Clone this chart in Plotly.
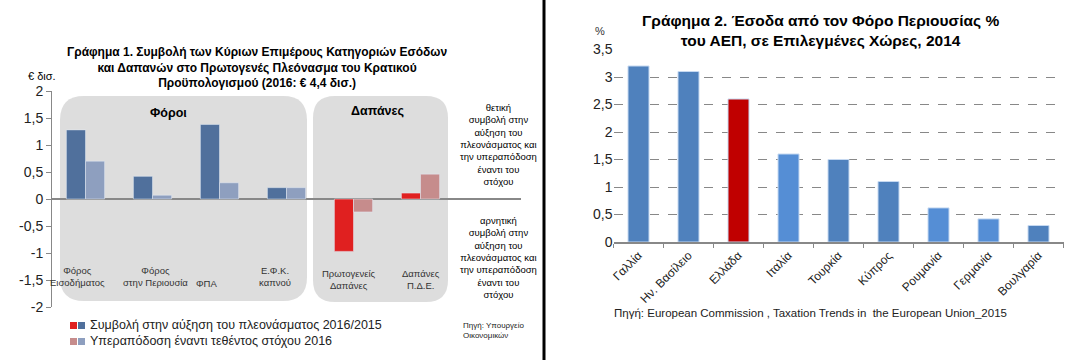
import plotly.graph_objects as go

W, H = 1071, 360
def px(x): return x / W
def py(y): return 1 - y / H

# ---------- Data: chart 1 ----------
cats1 = ["Φόρος Εισοδήματος", "Φόρος στην Περιουσία", "ΦΠΑ", "Ε.Φ.Κ. καπνού",
         "Πρωτογενείς Δαπάνες", "Δαπάνες Π.Δ.Ε."]
cat_labels1 = ["Φόρος<br>Εισοδήματος", "Φόρος<br>στην Περιουσία", "ΦΠΑ", "Ε.Φ.Κ.<br>καπνού",
               "Πρωτογενείς<br>Δαπάνες", "Δαπάνες<br>Π.Δ.Ε."]
contribution = [1.28, 0.42, 1.38, 0.21, -0.97, 0.11]
overperformance = [0.70, 0.07, 0.30, 0.21, -0.24, 0.46]
series1_names = ["Συμβολή στην αύξηση του πλεονάσματος 2016/2015",
                 "Υπεραπόδοση έναντι τεθέντος στόχου 2016"]
yticks1 = [-2, -1.5, -1, -0.5, 0, 0.5, 1, 1.5, 2]
yticklabels1 = ["-2", "-1,5", "-1", "-0,5", "0", "0,5", "1", "1,5", "2"]

# ---------- Data: chart 2 ----------
countries = ["Γαλλία", "Ην. Βασίλειο", "Ελλάδα", "Ιταλία", "Τουρκία", "Κύπρος",
             "Ρουμανία", "Γερμανία", "Βουλγαρία"]
property_tax = [3.2, 3.1, 2.6, 1.6, 1.5, 1.1, 0.62, 0.42, 0.3]
yticks2 = [0, 0.5, 1, 1.5, 2, 2.5, 3, 3.5]
yticklabels2 = ["0", "0,5", "1", "1,5", "2", "2,5", "3", "3,5"]

DARK_BLUE, LIGHT_BLUE = "#50709C", "#8E9FBF"
RED, PINK = "#E02020", "#C68C8C"
c1_contrib = [DARK_BLUE] * 4 + [RED] * 2
c1_over = [LIGHT_BLUE] * 4 + [PINK] * 2
c2 = ["#4F81BD", "#4F81BD", "#C00000", "#558ED5", "#4F81BD", "#4F81BD",
      "#558ED5", "#558ED5", "#4F81BD"]

fig = go.Figure()
fig.add_trace(go.Bar(x=cats1, y=contribution, marker_color=c1_contrib, xaxis="x", yaxis="y",
                     showlegend=False))
fig.add_trace(go.Bar(x=cats1, y=overperformance, marker_color=c1_over, xaxis="x", yaxis="y",
                     showlegend=False))
fig.add_trace(go.Bar(x=countries, y=property_tax, xaxis="x2", yaxis="y2", showlegend=False,
                     marker=dict(color=c2, line=dict(color="#C6D9F1", width=1)), width=0.42))

FONT = "Liberation Sans, Arial, sans-serif"
shapes = []
def rrect(x0, y0, x1, y1, r):
    p = lambda x, y: f"{px(x):.5f},{py(y):.5f}"
    return (f"M {p(x0+r,y0)} L {p(x1-r,y0)} Q {p(x1,y0)} {p(x1,y0+r)} "
            f"L {p(x1,y1-r)} Q {p(x1,y1)} {p(x1-r,y1)} L {p(x0+r,y1)} "
            f"Q {p(x0,y1)} {p(x0,y1-r)} L {p(x0,y0+r)} Q {p(x0,y0)} {p(x0+r,y0)} Z")
shapes.append(dict(type="path", xref="paper", yref="paper", path=rrect(60, 96, 307, 301, 24),
                   fillcolor="#DDDDDD", line=dict(width=0), layer="below"))
shapes.append(dict(type="path", xref="paper", yref="paper", path=rrect(313, 96, 448, 302, 22),
                   fillcolor="#DDDDDD", line=dict(width=0), layer="below"))
shapes.append(dict(type="line", xref="paper", yref="paper", x0=px(544), x1=px(544), y0=0, y1=1,
                   line=dict(color="black", width=3)))
for (xx, col) in [(70, RED), (78, DARK_BLUE)]:
    shapes.append(dict(type="rect", xref="paper", yref="paper", x0=px(xx), x1=px(xx + 7),
                       y0=py(329), y1=py(322), fillcolor=col, line=dict(width=0)))
for (xx, col) in [(70, PINK), (78, LIGHT_BLUE)]:
    shapes.append(dict(type="rect", xref="paper", yref="paper", x0=px(xx), x1=px(xx + 7),
                       y0=py(345), y1=py(338), fillcolor=col, line=dict(width=0)))

ann = []
def A(text, x, y, size, bold=False, xanchor="center", align="center", color="black", **kw):
    t = f"<b>{text}</b>" if bold else text
    ann.append(dict(text=t, x=px(x), y=py(y), xref="paper", yref="paper", showarrow=False,
                    xanchor=xanchor, yanchor="middle", align=align,
                    font=dict(family=FONT, size=size, color=color), **kw))

A("Γράφημα 1. Συμβολή των Κύριων Επιμέρους Κατηγοριών Εσόδων<br>"
  "και Δαπανών στο Πρωτογενές Πλεόνασμα του Κρατικού<br>Προϋπολογισμού (2016: € 4,4 δισ.)",
  257, 67, 12, bold=True)
A("€ δισ.", 42, 76, 11)
A("Φόροι", 168, 113, 12.5, bold=True)
A("Δαπάνες", 377, 111, 12.5, bold=True)
pos_y = [276, 276, 283, 276, 279, 279]
label_shift = [-8, 3, -13, -12, -5, 0]
for i, lab in enumerate(cat_labels1):
    ann.append(dict(text=lab, x=cats1[i], y=py(pos_y[i]), xref="x", yref="paper", showarrow=False,
                    xanchor="center", yanchor="middle", align="center", xshift=label_shift[i],
                    font=dict(family=FONT, size=9.5, color="#333")))
side = "συμβολή στην<br>αύξηση του<br>πλεονάσματος και<br>την υπεραπόδοση<br>έναντι του<br>στόχου"
A("θετική<br>" + side, 498, 144, 9.5)
A("αρνητική<br>" + side, 498, 257, 9.5)
A(series1_names[0], 88, 325, 12.5, xanchor="left", align="left", color="#222")
A(series1_names[1], 88, 341, 12.5, xanchor="left", align="left", color="#222")
A("Πηγή: Υπουργείο<br>Οικονομικών", 461, 330, 8, xanchor="left", align="left", color="#222")

A("Γράφημα 2. Έσοδα από τον Φόρο Περιουσίας %<br>του ΑΕΠ, σε Επιλεγμένες Χώρες, 2014",
  820, 30, 15.5, bold=True)
A("%", 600, 31, 11, color="#333")
A("Πηγή: European Commission , Taxation Trends in  the European Union_2015",
  612, 313, 11.5, xanchor="left", align="left", color="#222")

fig.update_layout(
    width=W, height=H, margin=dict(l=0, r=0, t=0, b=0, autoexpand=False),
    paper_bgcolor="white", plot_bgcolor="rgba(0,0,0,0)",
    barmode="group", bargap=0.43, bargroupgap=0,
    font=dict(family=FONT, color="black"),
    shapes=shapes, annotations=ann,
    xaxis=dict(domain=[px(52), px(521)], range=[-0.5, 6.5], showticklabels=False,
               showline=False, ticks="", showgrid=False, automargin=False),
    yaxis=dict(domain=[py(307), py(91)], range=[-2, 2], tickvals=yticks1, ticktext=yticklabels1,
               showline=True, linecolor="#888", linewidth=1, ticks="outside", ticklen=5,
               tickcolor="#888", showgrid=False, zeroline=True, zerolinecolor="#888",
               zerolinewidth=1.5, tickfont=dict(size=14, color="#222"), anchor="x",
               automargin=False),
    xaxis2=dict(domain=[px(613.5), px(1063.5)], anchor="y2", tickangle=-45,
                tickfont=dict(size=12, color="#222"), ticks="outside", tickson="boundaries",
                ticklen=4, tickcolor="#888", showline=True, linecolor="#888", linewidth=1.5,
                showgrid=False, automargin=False),
    yaxis2=dict(domain=[py(242), py(49.5)], range=[0, 3.5], anchor="x2", tickvals=yticks2,
                ticktext=yticklabels2, showgrid=True, gridcolor="#888", griddash="dash",
                gridwidth=1, zeroline=False, showline=False, ticks="",
                tickfont=dict(size=14, color="#222"), automargin=False),
)
fig.write_html("out.html", config={"displayModeBar": False},
               post_script="document.body.style.margin='0';document.body.style.overflow='hidden';")
